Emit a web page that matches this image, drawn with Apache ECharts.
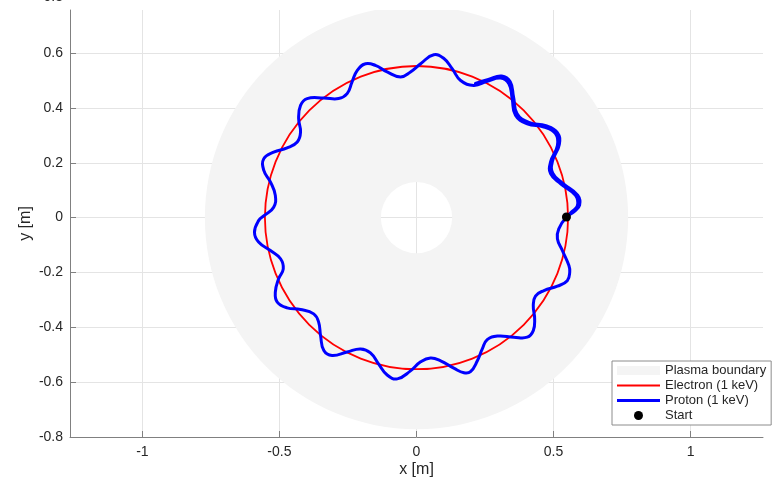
<!DOCTYPE html>
<html><head><meta charset="utf-8">
<script src="https://cdn.jsdelivr.net/npm/echarts@6/dist/echarts.min.js"></script>
<style>html,body{margin:0;padding:0;background:#fff}#c{width:775px;height:479px}</style>
</head><body><div id="c"></div>
<script>
// ---- data ----
const xTicks = [-1, -0.5, 0, 0.5, 1];
const yTicks = [-0.8, -0.6, -0.4, -0.2, 0, 0.2, 0.4, 0.6];
const yCutTick = 0.8;               // partially visible label at the top edge
const xLimits = [-1.264, 1.264];
const yLimits = [-0.8, 0.757];
// plasma boundary annulus: centre x, centre y, inner radius, outer radius
const plasmaRing = [[0, 0, 0.13, 0.772]];
// electron orbit: centre x, centre y, radius
const electronOrbit = [[0, 0, 0.553]];
const protonX = [0.547,0.566,0.587,0.580,0.526,0.489,0.489,0.514,0.507,0.465,0.404,0.361,0.349,0.337,0.307,0.258,0.209,0.161,0.130,0.100,0.063,0.015,-0.022,-0.058,-0.107,-0.150,-0.186,-0.216,-0.235,-0.253,-0.284,-0.338,-0.399,-0.423,-0.430,-0.423,-0.435,-0.472,-0.521,-0.557,-0.557,-0.533,-0.515,-0.521,-0.555,-0.576,-0.591,-0.576,-0.533,-0.496,-0.486,-0.503,-0.515,-0.508,-0.472,-0.423,-0.375,-0.357,-0.350,-0.338,-0.308,-0.253,-0.204,-0.168,-0.138,-0.107,-0.070,-0.022,0.015,0.051,0.088,0.136,0.173,0.197,0.222,0.240,0.258,0.295,0.355,0.404,0.426,0.431,0.426,0.434,0.465,0.514,0.550,0.559,0.556,0.532,0.514,0.519,0.547,
  0.574,0.595,0.588,0.534,0.497,0.496,0.521,0.514,0.472,0.410,0.367,0.354,0.342,0.311,0.262,0.215];
const protonY = [0.002,0.021,0.044,0.081,0.123,0.160,0.203,0.263,0.306,0.330,0.342,0.373,0.434,0.488,0.509,0.497,0.482,0.500,0.543,0.580,0.594,0.561,0.531,0.513,0.531,0.555,0.561,0.537,0.495,0.452,0.434,0.436,0.434,0.409,0.361,0.312,0.276,0.254,0.239,0.215,0.172,0.130,0.081,0.038,0.008,-0.011,-0.053,-0.089,-0.120,-0.150,-0.187,-0.223,-0.272,-0.308,-0.329,-0.335,-0.351,-0.381,-0.430,-0.485,-0.503,-0.490,-0.479,-0.493,-0.534,-0.574,-0.588,-0.559,-0.526,-0.512,-0.522,-0.549,-0.566,-0.562,-0.522,-0.479,-0.445,-0.432,-0.436,-0.436,-0.412,-0.369,-0.321,-0.286,-0.266,-0.250,-0.230,-0.199,-0.175,-0.120,-0.077,-0.041,0.002,
  0.021,0.045,0.082,0.125,0.162,0.206,0.267,0.310,0.335,0.347,0.379,0.440,0.495,0.516,0.504,0.489];
const startPoint = [[0.547, 0.002]];
const seriesNames = ['Plasma boundary', 'Electron (1 keV)', 'Proton (1 keV)', 'Start'];

// ---- chart ----
const chart = echarts.init(document.getElementById('c'), null, {renderer: 'canvas'});
const FONT = 'Liberation Sans, Arial, Helvetica, sans-serif';
const protonData = protonX.map((x, i) => [x, protonY[i]]);

const option = {
  animation: false,
  backgroundColor: '#ffffff',
  grid: {left: 70, right: 12, top: 10, bottom: 42, containLabel: false, outerBoundsMode: 'none'},
  xAxis: {
    type: 'value', min: xLimits[0], max: xLimits[1],
    name: 'x [m]', nameLocation: 'middle', nameGap: 25, nameMoveOverlap: false,
    nameTextStyle: {fontFamily: FONT, fontSize: 16, color: '#262626'},
    axisLine: {show: true, onZero: false, lineStyle: {color: '#808080', width: 1}},
    axisTick: {show: true, inside: true, length: 6, customValues: xTicks, lineStyle: {color: '#808080'}},
    axisLabel: {customValues: xTicks, margin: 8, fontFamily: FONT, fontSize: 14, color: '#262626',
      formatter: v => String(v)},
    splitLine: {show: true, lineStyle: {color: '#e4e4e4', width: 1}}
  },
  yAxis: {
    type: 'value', min: yLimits[0], max: yLimits[1],
    name: 'y [m]', nameLocation: 'middle', nameGap: 36, nameMoveOverlap: false,
    nameTextStyle: {fontFamily: FONT, fontSize: 16, color: '#262626'},
    axisLine: {show: true, onZero: false, lineStyle: {color: '#808080', width: 1}},
    axisTick: {show: true, inside: true, length: 6, customValues: yTicks, lineStyle: {color: '#808080'}},
    axisLabel: {customValues: yTicks, margin: 7, fontFamily: FONT, fontSize: 14, color: '#262626',
      formatter: v => String(Math.round(v * 10) / 10)},
    splitLine: {show: true, lineStyle: {color: '#e4e4e4', width: 1}}
  },
  legend: {
    orient: 'vertical', left: 612, top: 361,
    padding: [3, 5, 3, 5], itemWidth: 43, itemHeight: 9, itemGap: 2,
    borderColor: '#8c8c8c', borderWidth: 1, backgroundColor: '#ffffff',
    selectedMode: false,
    textStyle: {fontFamily: FONT, fontSize: 13, color: '#262626'},
    data: [
      {name: seriesNames[0], icon: 'rect', itemStyle: {color: '#f4f4f4'}},
      {name: seriesNames[1], icon: 'path://M0,0h43v1.8h-43z', itemStyle: {color: '#ff0000'}},
      {name: seriesNames[2], icon: 'path://M0,0h43v3h-43z', itemStyle: {color: '#0000ff'}},
      {name: seriesNames[3], icon: 'circle', itemStyle: {color: '#000000', opacity: 1}}
    ]
  },
  series: [
    {
      name: seriesNames[0], type: 'custom', clip: true, z: 1,
      itemStyle: {color: '#f4f4f4'},
      data: plasmaRing,
      renderItem: (params, api) => {
        const c = api.coord([api.value(0), api.value(1)]);
        const r0 = api.size([api.value(2), 0])[0];
        const r = api.size([api.value(3), 0])[0];
        return {type: 'ring', shape: {cx: c[0], cy: c[1], r: r, r0: r0}, style: {fill: '#f4f4f4'}};
      }
    },
    {
      name: seriesNames[1], type: 'custom', clip: true, z: 2,
      itemStyle: {color: '#ff0000'},
      data: electronOrbit,
      renderItem: (params, api) => {
        const c = api.coord([api.value(0), api.value(1)]);
        const r = api.size([api.value(2), 0])[0];
        return {type: 'circle', shape: {cx: c[0], cy: c[1], r: r}, style: {fill: 'none', stroke: '#ff0000', lineWidth: 1.8}};
      }
    },
    {
      // trajectory drawn as one smooth polyline through the digitised points,
      // each point mapped through the axes with api.coord
      name: seriesNames[2], type: 'custom', z: 3,
      itemStyle: {color: '#0000ff'},
      data: protonData,
      renderItem: (params, api) => {
        if (params.dataIndex !== 0) return null;
        const pts = [];
        for (let i = 0; i < protonData.length; i++) {
          pts.push(api.coord([api.value(0, i), api.value(1, i)]));
        }
        return {type: 'polyline', shape: {points: pts, smooth: 0.45},
          style: {fill: 'none', stroke: '#0000ff', lineWidth: 3, lineJoin: 'round', lineCap: 'round'}};
      }
    },
    {
      name: seriesNames[3], type: 'scatter', z: 4,
      data: startPoint, symbol: 'circle', symbolSize: 9,
      itemStyle: {color: '#000000', opacity: 1}
    }
  ]
};
chart.setOption(option);

// partially cut-off top tick label, placed via the axis scale
const yCut = chart.convertToPixel({yAxisIndex: 0}, yCutTick);
chart.setOption({
  graphic: [{
    type: 'text', right: 775 - 63, y: yCut - 8, z: 10,
    style: {text: String(yCutTick), fontFamily: FONT, fontSize: 14, fill: '#262626', textAlign: 'right'}
  }]
});
</script></body></html>
